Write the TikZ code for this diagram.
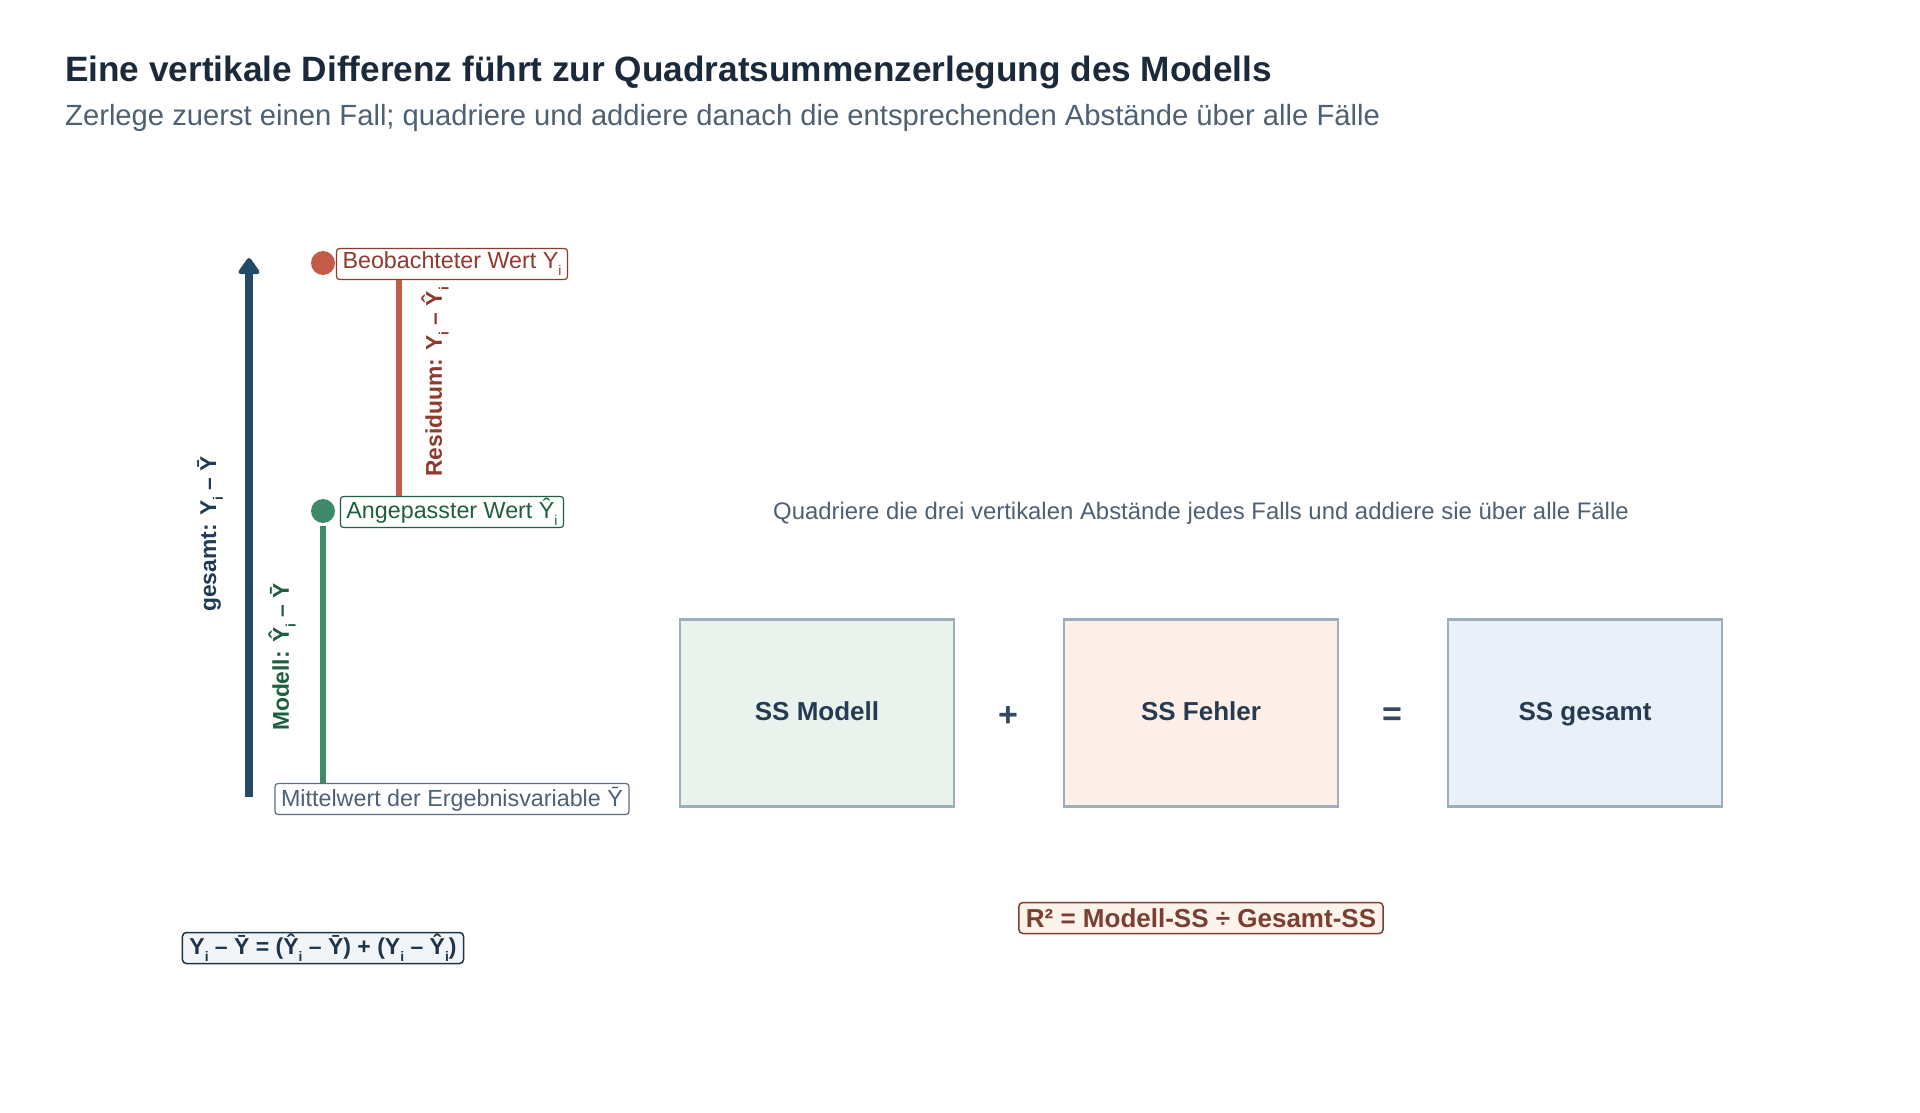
\documentclass[tikz,border=0pt]{standalone}
\usepackage{fontspec}
\usepackage{graphicx}
\setmainfont{Liberation Sans}
\usetikzlibrary{arrows.meta}
\definecolor{titlec}{HTML}{1B2A3A}
\definecolor{subc}{HTML}{4E6075}
\definecolor{redc}{HTML}{C45B48}
\definecolor{redt}{HTML}{8E3B2E}
\definecolor{greenc}{HTML}{3E8A6B}
\definecolor{greent}{HTML}{1F5E3F}
\definecolor{bluec}{HTML}{244A66}
\definecolor{bluet}{HTML}{1F3B55}
\definecolor{meanb}{HTML}{5D6D80}
\definecolor{boxb}{HTML}{9DAEBB}
\definecolor{boxt}{HTML}{263B52}
\definecolor{fillm}{HTML}{E9F2EC}
\definecolor{fillf}{HTML}{FEF0E8}
\definecolor{fillg}{HTML}{E9F0F7}
\definecolor{opc}{HTML}{34495E}
\definecolor{rfill}{HTML}{FDF3EA}
\definecolor{rtext}{HTML}{7B3F31}
\definecolor{efill}{HTML}{F1F5F8}
\definecolor{etext}{HTML}{1E3448}
\newcommand{\ix}{\raisebox{-0.3em}{\scalebox{0.6}{i}}}
\begin{document}
\begin{tikzpicture}[x=1pt,y=-1pt,
  lbl/.style={draw, rounded corners=3pt, fill=white, line width=1.2pt, inner xsep=6pt, inner ysep=0pt, minimum height=31pt, font=\fontsize{23.3}{27}\selectfont},
  dotstyle/.style={circle, inner sep=0pt, minimum size=24pt},
  vlabel/.style={rotate=90, inner sep=0pt, font=\bfseries\fontsize{22.8}{26}\selectfont},
  ssbox/.style={draw=boxb, line width=2.5pt, minimum width=274pt, minimum height=187pt, text height=19pt, text depth=5pt, text=boxt, font=\bfseries\fontsize{26}{30}\selectfont},
  opsign/.style={text=opc, font=\bfseries\fontsize{34}{38}\selectfont, inner sep=0pt},
  formbox/.style={draw, rounded corners=4pt, line width=1.5pt, inner xsep=7pt, inner ysep=0pt, minimum height=31pt}
]
\useasboundingbox (0,0) rectangle (1920,1113);
\fill[white] (0,0) rectangle (1920,1113);

\node[anchor=base west, inner sep=0pt, text=titlec, font=\bfseries\fontsize{35.2}{40}\selectfont] (title) at (65,82) {Eine vertikale Differenz führt zur Quadratsummenzerlegung des Modells};
\node[anchor=base west, inner sep=0pt, text=subc, font=\fontsize{29.2}{33}\selectfont] (subtitle) at (65,126) {Zerlege zuerst einen Fall; quadriere und addiere danach die entsprechenden Abstände über alle Fälle};

% total arrow
\coordinate (ab) at (249,797);
\coordinate (at) at (249,258);
\draw[bluec, line width=8pt, -{Triangle[width=24pt,length=18pt,round]}] (ab) -- (at);
\node[vlabel, text=bluet] (gl) at (210,534) {gesamt: Y\ix{} – Ȳ};

% points and labels
\node[dotstyle, fill=redc] (obs) at (323,263) {};
\node[lbl, draw=redt, text=redt] (obsl) at (452,264) {Beobachteter Wert Y\ix};
\node[dotstyle, fill=greenc] (fit) at (323,511) {};
\node[lbl, draw=greent, text=greent] (fitl) at (452,512) {Angepasster Wert Ŷ\ix};
\node[lbl, draw=meanb, text=subc] (mean) at (452,799) {Mittelwert der Ergebnisvariable Ȳ};

\coordinate (rx) at (399,0);
\draw[redc, line width=6.5pt] (obsl.south -| rx) -- (fitl.north -| rx);
\node[vlabel, text=redt] (rl) at (435,382) {Residuum: Y\ix{} – Ŷ\ix};

\draw[greenc, line width=6.5pt, shorten <=3pt] (fit.south) -- (mean.north -| fit);
\node[vlabel, text=greent] (ml) at (282,657) {Modell: Ŷ\ix{} – Ȳ};

% right part
\node[text=subc, inner sep=0pt, font=\fontsize{23.9}{28}\selectfont] (hint) at (1201,513) {Quadriere die drei vertikalen Abstände jedes Falls und addiere sie über alle Fälle};

\node[ssbox, fill=fillm] (ssm) at (817,713) {SS Modell};
\node[ssbox, fill=fillf] (ssf) at (1201,713) {SS Fehler};
\node[ssbox, fill=fillg] (ssg) at (1585,713) {SS gesamt};
\node[opsign] (plus) at (1008,717) {+};
\node[opsign] (eq) at (1392,717) {=};

\node[formbox, draw=rtext, fill=rfill, text=rtext, font=\bfseries\fontsize{26}{30}\selectfont] (r2) at (1201,918) {R² = Modell-SS ÷ Gesamt-SS};
\node[formbox, draw=etext, fill=efill, text=etext, font=\bfseries\fontsize{23}{27}\selectfont] (eqn) at (323,948) {Y\ix{} – Ȳ = (Ŷ\ix{} – Ȳ) + (Y\ix{} – Ŷ\ix)};
\end{tikzpicture}
\end{document}
